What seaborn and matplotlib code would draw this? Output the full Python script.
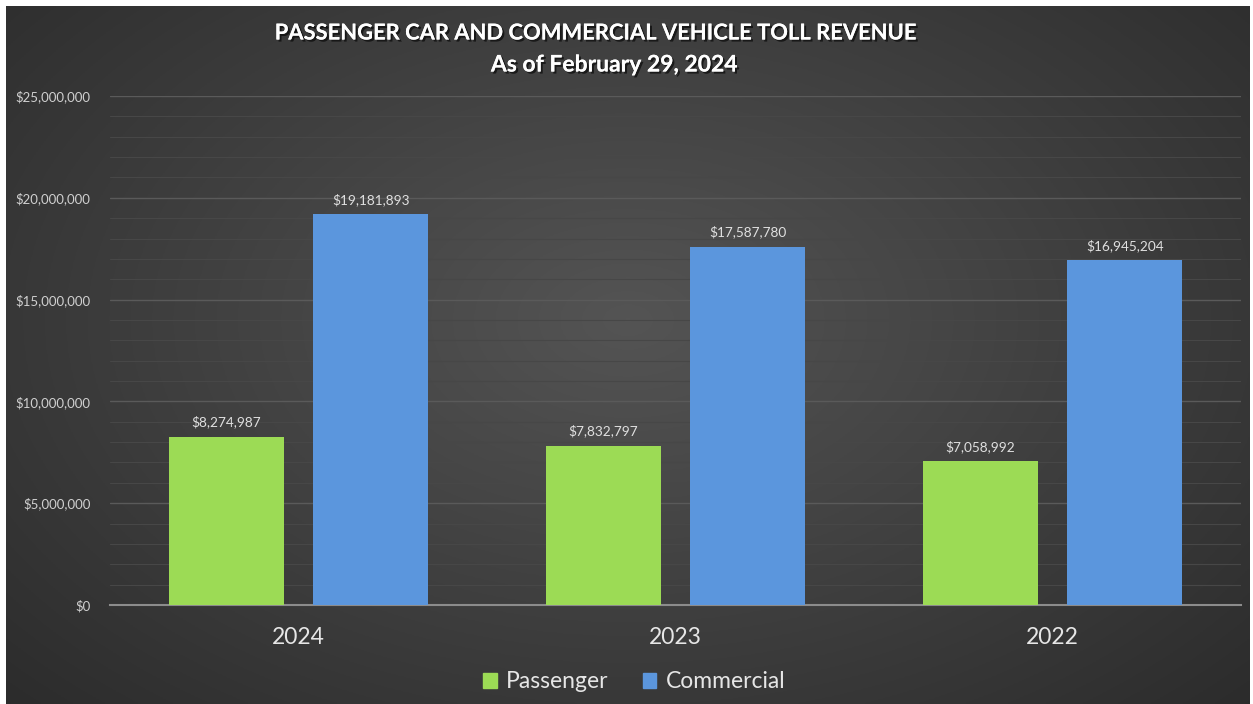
import numpy as np
import pandas as pd
import matplotlib
matplotlib.use("Agg")
import matplotlib.pyplot as plt
import matplotlib.patheffects as pe
from matplotlib.ticker import MultipleLocator, FuncFormatter
import seaborn as sns

# Chart data
years = ["2024", "2023", "2022"]
passenger = [8274987, 7832797, 7058992]
commercial = [19181893, 17587780, 16945204]
series_names = ["Passenger", "Commercial"]

df = pd.DataFrame({
    "Year": years * 2,
    "Revenue": passenger + commercial,
    "Type": [series_names[0]] * 3 + [series_names[1]] * 3,
})

sns.set_theme(style="white")
plt.rcParams["font.family"] = ["Lato", "DejaVu Sans"]

W, H = 1253, 704
fig = plt.figure(figsize=(W / 100, H / 100), dpi=100, facecolor="white")

# radial gradient background
bg = fig.add_axes([6 / W, 0, (1250 - 6) / W, (H - 6) / H])
yy, xx = np.mgrid[0:1:300j, 0:1:500j]
r = np.sqrt(((xx - 0.5) / 0.75) ** 2 + ((yy - 0.45) / 0.85) ** 2)
shade = np.clip(0.33 - 0.17 * r, 0.16, 0.34)
bg.imshow(np.dstack([shade] * 3), aspect="auto", extent=[0, 1, 0, 1], origin="upper")
bg.set_axis_off()

ax = fig.add_axes([110 / W, 99 / H, (1241 - 110) / W, 509 / H])
ax.set_facecolor("none")
palette = {"Passenger": "#9CDB55", "Commercial": "#5B96DD"}
sns.barplot(data=df, x="Year", y="Revenue", hue="Type", palette=palette,
            width=0.766, gap=0.2, ax=ax, saturation=1, edgecolor="none",
            legend=False, zorder=3)

ax.set_ylim(0, 25000000)
ax.set_xlim(-0.5, 2.5)
ax.yaxis.set_major_locator(MultipleLocator(5000000))
ax.yaxis.set_minor_locator(MultipleLocator(1000000))
ax.yaxis.set_major_formatter(FuncFormatter(lambda v, p: f"${v:,.0f}"))
ax.grid(axis="y", which="major", color="#5a5a5a", linewidth=1.0, zorder=0)
ax.grid(axis="y", which="minor", color="#474747", linewidth=0.8, zorder=0)
ax.set_axisbelow(True)
for s in ["top", "right", "left"]:
    ax.spines[s].set_visible(False)
ax.spines["bottom"].set_color("#8c8c8c")
ax.spines["bottom"].set_linewidth(1.5)
ax.tick_params(axis="y", which="both", length=0, labelsize=9.5, labelcolor="#d0d0d0", pad=14)
ax.tick_params(axis="x", length=0, labelsize=16.5, labelcolor="#e6e6e6", pad=16)
ax.set_xlabel("")
ax.set_ylabel("")

for cont in ax.containers:
    ax.bar_label(cont, labels=[f"${v:,.0f}" for v in cont.datavalues],
                 padding=6, fontsize=9.8, color="#e0e0e0")

shadow = [pe.withSimplePatchShadow(offset=(1.5, -1.5), shadow_rgbFace="black", alpha=0.6), pe.Normal()]
fig.text(596 / W, 1 - 33 / H, "PASSENGER CAR AND COMMERCIAL VEHICLE TOLL REVENUE",
         ha="center", va="center", fontsize=15.8, fontweight="bold", color="white",
         path_effects=shadow)
fig.text(614 / W, 1 - 65 / H, "As of February 29, 2024",
         ha="center", va="center", fontsize=16.5, fontweight="bold", color="white",
         path_effects=shadow)

handles = [plt.Rectangle((0, 0), 1, 1, color=palette[n]) for n in series_names]
fig.legend(handles, series_names, loc="center", bbox_to_anchor=(634 / W, 1 - 682 / H),
           ncol=2, frameon=False, fontsize=16.5, labelcolor="#e6e6e6",
           handlelength=0.6, handleheight=0.6, handletextpad=0.4, columnspacing=1.5)

fig.savefig("out.png", dpi=100, facecolor="white")
